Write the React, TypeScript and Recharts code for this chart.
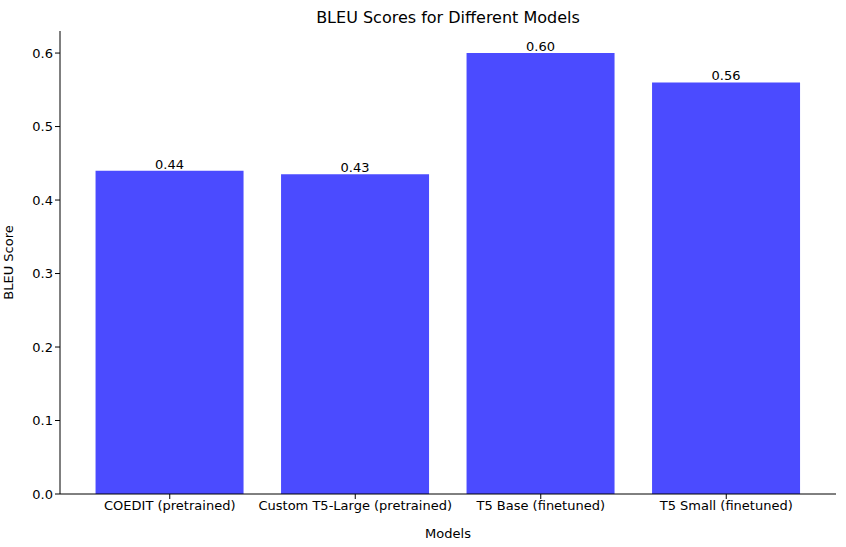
import { BarChart, Bar, XAxis, YAxis, LabelList } from "recharts";

const models = [
  "COEDIT (pretrained)",
  "Custom T5-Large (pretrained)",
  "T5 Base (finetuned)",
  "T5 Small (finetuned)",
];
const bleu = [0.44, 0.435, 0.6, 0.56];
const yTicks = [0, 0.1, 0.2, 0.3, 0.4, 0.5, 0.6];

const data = models.map((m, i) => ({ model: m, bleu: bleu[i] }));
const font = "DejaVu Sans, sans-serif";

export default function App() {
  return (
    <div style={{ position: "absolute", left: 0, top: 0, fontFamily: font }}>
      <BarChart
        width={846}
        height={547}
        data={data}
        margin={{ top: 31, right: 10, left: 0, bottom: 0 }}
        barCategoryGap="10%"
      >
        <text x={448} y={23} textAnchor="middle" fontSize={16} fill="#000" fontFamily={font}>
          BLEU Scores for Different Models
        </text>
        <XAxis
          dataKey="model"
          height={53}
          padding={{ left: 17, right: 17 }}
          tick={{ fill: "#000", fontSize: 13, fontFamily: font }}
          tickSize={5}
          stroke="#000"
          label={{ value: "Models", position: "insideBottom", offset: 9, fill: "#000", fontSize: 13, fontFamily: font }}
        />
        <XAxis xAxisId="top" dataKey="model" orientation="top" tick={false} tickLine={false} height={0} stroke="#000" />
        <YAxis
          width={60}
          domain={[0, 0.63]}
          ticks={yTicks}
          tickFormatter={(v: number) => v.toFixed(1)}
          tick={{ fill: "#000", fontSize: 13, fontFamily: font }}
          tickSize={5}
          stroke="#000"
          label={{ value: "BLEU Score", angle: -90, position: "insideLeft", offset: 8, fill: "#000", fontSize: 13, fontFamily: font, style: { textAnchor: "middle" } }}
        />
        <YAxis yAxisId="right" orientation="right" width={0} tick={false} tickLine={false} stroke="#000" domain={[0, 0.63]} />
        <Bar dataKey="bleu" fill="#4b4bff" isAnimationActive={false}>
          <LabelList
            dataKey="bleu"
            position="top"
            offset={2}
            formatter={(v: number) => v.toFixed(2)}
            style={{ fill: "#000", fontSize: 13, fontFamily: font }}
          />
        </Bar>
      </BarChart>
    </div>
  );
}
